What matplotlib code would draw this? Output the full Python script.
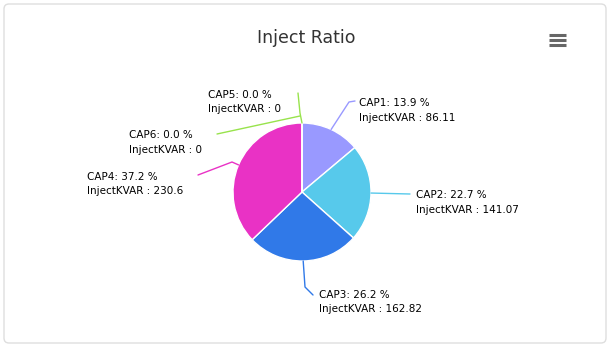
import numpy as np
import matplotlib
matplotlib.use("Agg")
import matplotlib.pyplot as plt
from matplotlib.patches import FancyBboxPatch

# data
caps = ["CAP1", "CAP2", "CAP3", "CAP4", "CAP5", "CAP6"]
inject_kvar = [86.11, 141.07, 162.82, 230.6, 0, 0]
inject_txt = ["86.11", "141.07", "162.82", "230.6", "0", "0"]
colors = ["#9999ff", "#57c9eb", "#3079e8", "#e932c5", "#98e34c", "#98e34c"]

W, H = 613, 351
fig = plt.figure(figsize=(W / 100, H / 100), dpi=100)
ax = fig.add_axes([0, 0, 1, 1])
ax.set_xlim(0, W)
ax.set_ylim(0, H)
ax.set_aspect("equal")
ax.axis("off")

# card frame
card = FancyBboxPatch((4, 8), 602, 339, boxstyle="round,pad=0,rounding_size=5",
                      fc="white", ec="#dedede", lw=1, zorder=0)
ax.add_patch(card)

cx, cy, r = 302, H - 192, 69
ax.pie(inject_kvar, colors=colors, startangle=90, counterclock=False,
       center=(cx, cy), radius=r, frame=True,
       wedgeprops=dict(edgecolor="white", linewidth=1))
ax.set_xlim(0, W)
ax.set_ylim(0, H)
ax.axis("off")

total = sum(inject_kvar)
pct = [100 * v / total for v in inject_kvar]
cum = np.cumsum([0] + inject_kvar)
mids = (cum[:-1] + cum[1:]) / 2 / total * 2 * np.pi  # clockwise from top

# label layout (pixel coords from top): text left x, text centre y, connector path
layout = [
    (359, 110.5, [(349, 102), (355, 101)]),
    (416, 202.5, [(410, 194)]),
    (319, 302, [(305, 287), (313, 295)]),
    (87, 184, [(232, 162), (198, 175)]),
    (208, 102, [(300, 113), (298, 93)]),
    (129, 142.5, [(300, 116), (217, 134)]),
]

for i, cap in enumerate(caps):
    tx, ty, path = layout[i]
    ex = cx + r * np.sin(mids[i])
    ey = cy + r * np.cos(mids[i])
    xs = [ex] + [p[0] for p in path]
    ys = [ey] + [H - p[1] for p in path]
    if i == 5:
        xs, ys = [p[0] for p in path], [H - p[1] for p in path]
    ax.plot(xs, ys, color=colors[i], lw=1, zorder=1, solid_capstyle="round")
    ax.text(tx, H - ty, f"{cap}: {pct[i]:.1f} %\nInjectKVAR : {inject_txt[i]}",
            ha="left", va="center", fontsize=7.5, color="#000000",
            linespacing=1.6, zorder=3)

ax.text(W / 2, H - 38, "Inject Ratio", ha="center", va="center",
        fontsize=12.5, color="#333333")

# menu icon
for yy in (35, 40, 45):
    ax.plot([549, 566], [H - yy, H - yy], color="#666666", lw=2.2,
            solid_capstyle="butt")

fig.savefig("out.png", dpi=100)
